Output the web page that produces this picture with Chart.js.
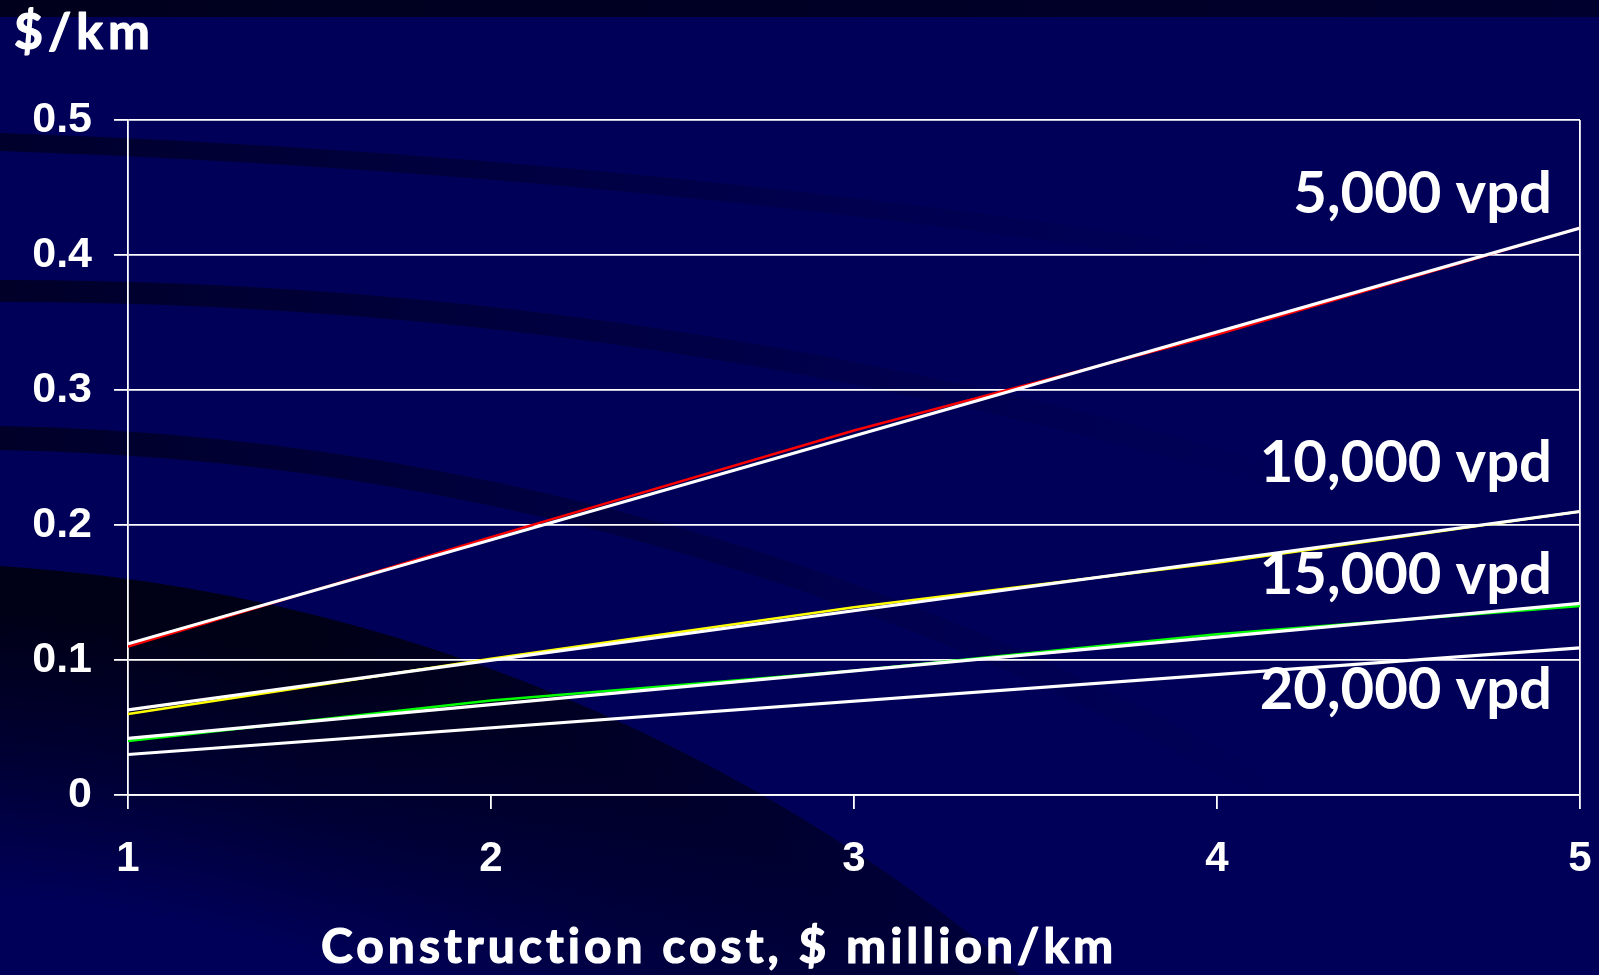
<!DOCTYPE html>
<html><head><meta charset="utf-8">
<script src="https://cdn.jsdelivr.net/npm/chart.js@4.4.0/dist/chart.umd.min.js"></script>
<style>
html,body{margin:0;padding:0;background:#00005a;overflow:hidden}
#wrap{position:relative;width:1599px;height:975px}
</style></head>
<body><div id="wrap"><canvas id="c"></canvas></div>
<script>
// ---- data ----
const costs = [1, 2, 3, 4, 5];                 // construction cost, $ million/km
const vpd5000  = [0.110, 0.191, 0.270, 0.341, 0.420];
const vpd10000 = [0.060, 0.101, 0.139, 0.172, 0.210];
const vpd15000 = [0.040, 0.070, 0.092, 0.119, 0.140];
const trendX     = [1, 5];
const trend5000  = [0.112, 0.420];
const trend10000 = [0.063, 0.210];
const trend15000 = [0.042, 0.142];
const trend20000 = [0.030, 0.109];
const xTicks = [1, 2, 3, 4, 5];
const yTicks = [0, 0.1, 0.2, 0.3, 0.4, 0.5];
const seriesLabels = ['5,000 vpd', '10,000 vpd', '15,000 vpd', '20,000 vpd'];
const labelYValues = [0.431, 0.232, 0.149, 0.064];
const yTitle = '$/km';
const xTitle = 'Construction cost, $ million/km';

const pts = (xs, ys) => xs.map((x, i) => ({x: x, y: ys[i]}));
const TEXT_FONT = 'Lato, "Open Sans", sans-serif';
const TICK_FONT = '"Liberation Sans", Arial, sans-serif';

function circle3(a, b, c) {
  const d = 2 * (a[0]*(b[1]-c[1]) + b[0]*(c[1]-a[1]) + c[0]*(a[1]-b[1]));
  const a2 = a[0]*a[0]+a[1]*a[1], b2 = b[0]*b[0]+b[1]*b[1], c2 = c[0]*c[0]+c[1]*c[1];
  const ux = (a2*(b[1]-c[1]) + b2*(c[1]-a[1]) + c2*(a[1]-b[1])) / d;
  const uy = (a2*(c[0]-b[0]) + b2*(a[0]-c[0]) + c2*(b[0]-a[0])) / d;
  return {x: ux, y: uy, r: Math.hypot(a[0]-ux, a[1]-uy)};
}

const backgroundPlugin = {
  id: 'bg',
  beforeDraw(chart) {
    const ctx = chart.ctx, W = chart.width, H = chart.height;
    ctx.save();
    ctx.fillStyle = '#000058';
    ctx.fillRect(0, 0, W, H);
    // top dark strip
    let g = ctx.createLinearGradient(0, 0, W, 0);
    g.addColorStop(0, 'rgba(0,0,25,0.95)');
    g.addColorStop(1, 'rgba(0,0,35,0.8)');
    ctx.fillStyle = g;
    ctx.fillRect(0, 0, W, 17);
    // dark arcs
    const bands = [
      {p: [[0,142],[700,190],[1599,322]], w: 18, a0: 0.7, end: 1250},
      {p: [[0,291],[700,346],[1254,470]], w: 22, a0: 0.75, end: 1300},
      {p: [[0,438],[700,546],[1400,870]], w: 24, a0: 0.75, end: 1300}
    ];
    bands.forEach(b => {
      const c = circle3(b.p[0], b.p[1], b.p[2]);
      const lg = ctx.createLinearGradient(0, 0, b.end, 0);
      lg.addColorStop(0, 'rgba(0,0,25,' + b.a0 + ')');
      lg.addColorStop(0.35, 'rgba(0,0,25,' + (b.a0 * 0.6) + ')');
      lg.addColorStop(0.7, 'rgba(0,0,25,' + (b.a0 * 0.2) + ')');
      lg.addColorStop(1, 'rgba(0,0,25,0)');
      ctx.strokeStyle = lg;
      ctx.lineWidth = b.w;
      ctx.beginPath();
      ctx.arc(c.x, c.y, c.r, 0, Math.PI * 2);
      ctx.stroke();
    });
    // bottom-left dark crescent
    const cc = circle3([0,566],[480,665],[882,870]);
    ctx.save();
    ctx.beginPath();
    ctx.arc(cc.x, cc.y, cc.r, 0, Math.PI * 2);
    ctx.clip();
    const rg = ctx.createRadialGradient(cc.x, cc.y, Math.max(cc.r - 330, 0), cc.x, cc.y, cc.r);
    rg.addColorStop(0, 'rgba(0,0,18,0)');
    rg.addColorStop(0.45, 'rgba(0,0,18,0.55)');
    rg.addColorStop(0.85, 'rgba(0,0,18,0.92)');
    rg.addColorStop(1, 'rgba(0,0,18,0.95)');
    ctx.fillStyle = rg;
    ctx.fillRect(0, 0, W, H);
    const fg = ctx.createLinearGradient(300, 0, 1050, 0);
    fg.addColorStop(0, 'rgba(0,0,88,0)');
    fg.addColorStop(1, 'rgba(0,0,88,0.6)');
    ctx.fillStyle = fg;
    ctx.fillRect(0, 0, W, H);
    ctx.restore();
    ctx.restore();
  }
};

const textPlugin = {
  id: 'texts',
  afterDraw(chart) {
    const ctx = chart.ctx, xs = chart.scales.x, ys = chart.scales.y;
    ctx.save();
    ctx.fillStyle = '#ffffff';
    ctx.strokeStyle = '#ffffff';
    ctx.lineJoin = 'round';
    ctx.textBaseline = 'alphabetic';
    ctx.font = 'bold 50px ' + TEXT_FONT;
    ctx.letterSpacing = '5px';
    ctx.textAlign = 'left';
    ctx.lineWidth = 1.2;
    ctx.fillText(yTitle, 14, 49);
    ctx.strokeText(yTitle, 14, 49);
    ctx.font = 'bold 48px ' + TEXT_FONT;
    ctx.letterSpacing = '4px';
    ctx.fillText(xTitle, 321, 963);
    ctx.strokeText(xTitle, 321, 963);
    ctx.letterSpacing = '0px';
    ctx.font = 'bold 58px ' + TEXT_FONT;
    ctx.textAlign = 'right';
    const rx = xs.getPixelForValue(5) - 28;
    seriesLabels.forEach((t, i) => {
      ctx.fillText(t, rx, ys.getPixelForValue(labelYValues[i]));
    });
    ctx.restore();
  }
};

const colored = (data, color) => ({
  data: pts(costs, data), borderColor: color, borderWidth: 2.5,
  pointRadius: 0, tension: 0, fill: false, order: 2
});
const trend = (data) => ({
  data: pts(trendX, data), borderColor: '#ffffff', borderWidth: 3.2,
  pointRadius: 0, tension: 0, fill: false, order: 1
});

new Chart(document.getElementById('c'), {
  type: 'line',
  data: {
    datasets: [
      colored(vpd5000, '#ff0000'),
      colored(vpd10000, '#ffff00'),
      colored(vpd15000, '#00ff00'),
      trend(trend5000),
      trend(trend10000),
      trend(trend15000),
      trend(trend20000)
    ]
  },
  options: {
    responsive: true,
    maintainAspectRatio: false,
    animation: false,
    layout: {padding: {top: 120, right: 19, left: 0, bottom: 0}},
    plugins: {legend: {display: false}, tooltip: {enabled: false}, title: {display: false}},
    scales: {
      x: {
        type: 'linear', min: 1, max: 5,
        afterBuildTicks: s => { s.ticks = xTicks.map(v => ({value: v})); },
        afterFit: s => { s.height = 180; s.paddingRight = 0; s.paddingLeft = 0; },
        grid: {
          color: c => (c.tick && c.tick.value === 5) ? '#ffffff' : 'rgba(0,0,0,0)',
          tickColor: '#ffffff', tickLength: 14, lineWidth: 1.8, drawOnChartArea: true
        },
        border: {color: '#ffffff', width: 1.8},
        ticks: {
          color: '#ffffff', padding: 25, maxRotation: 0, autoSkip: false,
          font: {family: TICK_FONT, weight: 'bold', size: 42}
        }
      },
      y: {
        min: 0, max: 0.5,
        afterBuildTicks: s => { s.ticks = yTicks.map(v => ({value: v})); },
        afterFit: s => { s.width = 128; s.paddingTop = 0; s.paddingBottom = 0; },
        grid: {color: '#ffffff', tickColor: '#ffffff', tickLength: 14, lineWidth: 1.8},
        border: {color: '#ffffff', width: 1.8},
        ticks: {
          color: '#ffffff', padding: 22, autoSkip: false,
          font: {family: TICK_FONT, weight: 'bold', size: 43},
          callback: v => String(Math.round(v * 10) / 10)
        }
      }
    }
  },
  plugins: [backgroundPlugin, textPlugin]
});
</script>
</body></html>
